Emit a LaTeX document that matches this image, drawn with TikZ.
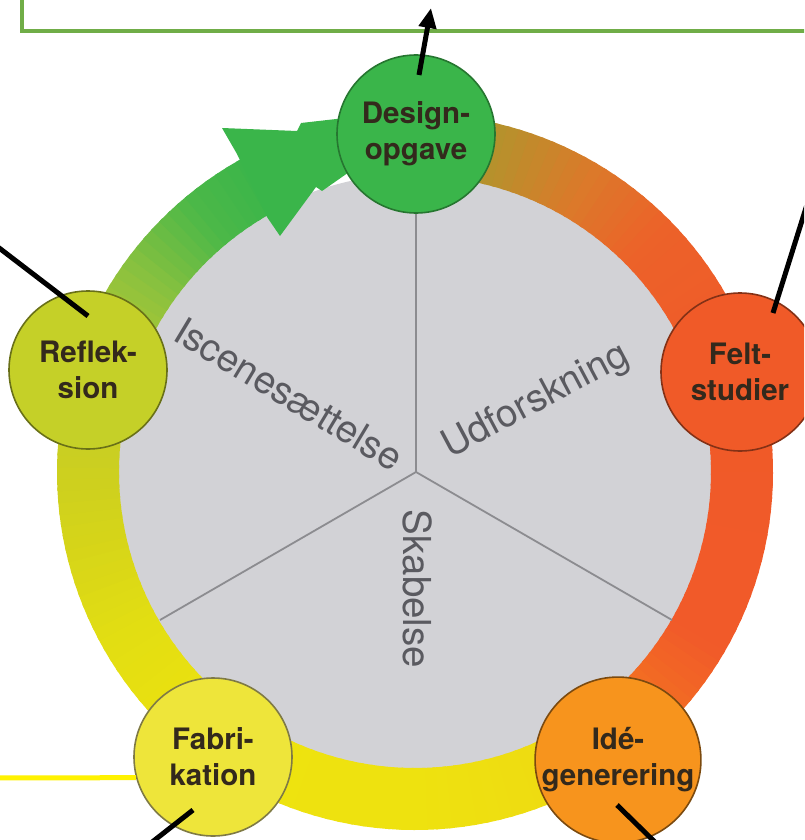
\documentclass[tikz,border=0pt]{standalone}
\usepackage{fontspec}
\setmainfont{TeX Gyre Heros}
\usetikzlibrary{arrows.meta}
\definecolor{r0}{HTML}{A09A30}
\definecolor{r1}{HTML}{B8902C}
\definecolor{r2}{HTML}{DB7A2A}
\definecolor{r3}{HTML}{EC6229}
\definecolor{r4}{HTML}{F05A28}
\definecolor{r5}{HTML}{F15A29}
\definecolor{r6}{HTML}{F37022}
\definecolor{r7}{HTML}{F7941D}
\definecolor{r8}{HTML}{EEDB12}
\definecolor{r9}{HTML}{EEE20F}
\definecolor{r10}{HTML}{EEE30E}
\definecolor{r11}{HTML}{E3DE12}
\definecolor{r12}{HTML}{D0D11C}
\definecolor{r13}{HTML}{BFCB2C}
\definecolor{r14}{HTML}{8CC13E}
\definecolor{r15}{HTML}{4DB848}
\definecolor{r16}{HTML}{3AB54A}
\definecolor{fabfill}{HTML}{EEE53A}
\definecolor{fabdraw}{HTML}{7F7A45}
\definecolor{greyfill}{HTML}{D2D2D6}
\definecolor{sectline}{HTML}{8C8C90}
\definecolor{inlabc}{HTML}{5A5A60}
\definecolor{txtc}{HTML}{33291C}
\definecolor{rectgreen}{HTML}{70AD47}
\definecolor{yline}{HTML}{FFF200}
\begin{document}
\begin{tikzpicture}[x=1pt,y=-1pt,
  circ/.style={circle, minimum size=158pt, inner sep=0pt, line width=1.6pt, align=center,
    text=txtc, font=\fontsize{29.5}{36}\selectfont\bfseries},
  inlab/.style={text=inlabc, inner sep=0pt, font=\fontsize{38.5}{40}\selectfont},
  sect/.style={draw=sectline, line width=1.8pt},
  conn/.style={draw=black, line width=5pt},
  grect/.style={draw=rectgreen, line width=4pt},
  yconn/.style={draw=yline, line width=5pt}]
\useasboundingbox (0,0) rectangle (804,840);
\clip (0,0) rectangle (804,840);
\fill[white] (0,0) rectangle (804,840);
% grey disk
\fill[greyfill] (415,472) circle[radius=298];
% gradient ring
\begin{scope}[shift={(415,472)}, yscale=-1]
\foreach \a/\b/\ca/\cb in {90/75/r0/r1, 75/60/r1/r2, 60/45/r2/r3, 45/20/r3/r4, 20/-30/r4/r5,
  -30/-45/r5/r6, -45/-54/r6/r7, -54/-64/r7/r8, -64/-90/r8/r9, -90/-126/r9/r10,
  -126/-150/r10/r11, -150/-175/r11/r12, -175/-198/r12/r13, -198/-215/r13/r14,
  -215/-230/r14/r15, -230/-242/r15/r16}{
  \pgfmathtruncatemacro\n{max(1,round((\a-(\b))/2))}
  \foreach \i in {1,...,\n}{
    \pgfmathsetmacro\sa{\a+((\b)-\a)*(\i-1)/\n}
    \pgfmathsetmacro\eb{\a+((\b)-\a)*\i/\n-0.6}
    \pgfmathtruncatemacro\p{100*(\i-0.5)/\n}
    \fill[\cb!\p!\ca] (\sa:296) arc[start angle=\sa,end angle=\eb,radius=296]
      -- (\eb:358) arc[start angle=\eb,end angle=\sa,radius=358] -- cycle;
  }
}
\end{scope}
% arrow head
\fill[r16] (237,154) -- (222,128) -- (297,131) -- (301,123) -- (442,107)
  -- (322,191) -- (316,187) -- (280,236) -- (267,217) -- cycle;
% sector lines
\coordinate (ctr) at (416,472);
\coordinate (sUp) at (416,214);
\coordinate (sL) at (160,620);
\coordinate (sR) at (672,620);
\draw[sect] (ctr) -- (sUp);
\draw[sect] (ctr) -- (sL);
\draw[sect] (ctr) -- (sR);
% inner labels
\node[inlab, rotate=-31] (isc) at (289,394) {Iscenesættelse};
\node[inlab, rotate=28] (udf) at (536,402) {Udforskning};
\node[inlab, rotate=-90] (skab) at (418,589) {Skabelse};
% yellow line
\coordinate (yA) at (-5,778);
% circles
\node[circ, fill=r16, draw=black!35!r16] (design) at (416,134) {Design-\\opgave};
\node[circ, fill=r4, draw=black!45!r4] (felt) at (740,372) {Felt-\\studier};
\node[circ, fill=r7, draw=black!50!r7] (ide) at (618,760) {Idé-\\generering};
\node[circ, fill=fabfill, draw=fabdraw] (fab) at (213,757) {Fabri-\\kation};
\node[circ, fill=r13!90!yellow, draw=black!45!r13] (refl) at (88,370) {Reflek-\\sion};
\draw[yconn] (yA) -- (fab.195);
% green box
\coordinate (gA) at (22,-20);
\coordinate (gB) at (830,31);
\draw[grect] (gA) rectangle (gB);
% connectors
\coordinate (dS) at (419,75);
\coordinate (dE) at (431,8);
\draw[conn, -{Triangle[length=20pt,width=17pt]}] (dS) -- (dE);
\coordinate (rS) at (88,316);
\coordinate (rE) at (-10,241);
\draw[conn] (rS) -- (rE);
\coordinate (fS) at (773,313);
\coordinate (fE) at (810,195);
\draw[conn] (fS) -- (fE);
\coordinate (bS) at (193,810);
\coordinate (bE) at (142,850);
\draw[conn] (bS) -- (bE);
\coordinate (iS) at (617,805);
\coordinate (iE) at (663,850);
\draw[conn] (iS) -- (iE);
\end{tikzpicture}
\end{document}
